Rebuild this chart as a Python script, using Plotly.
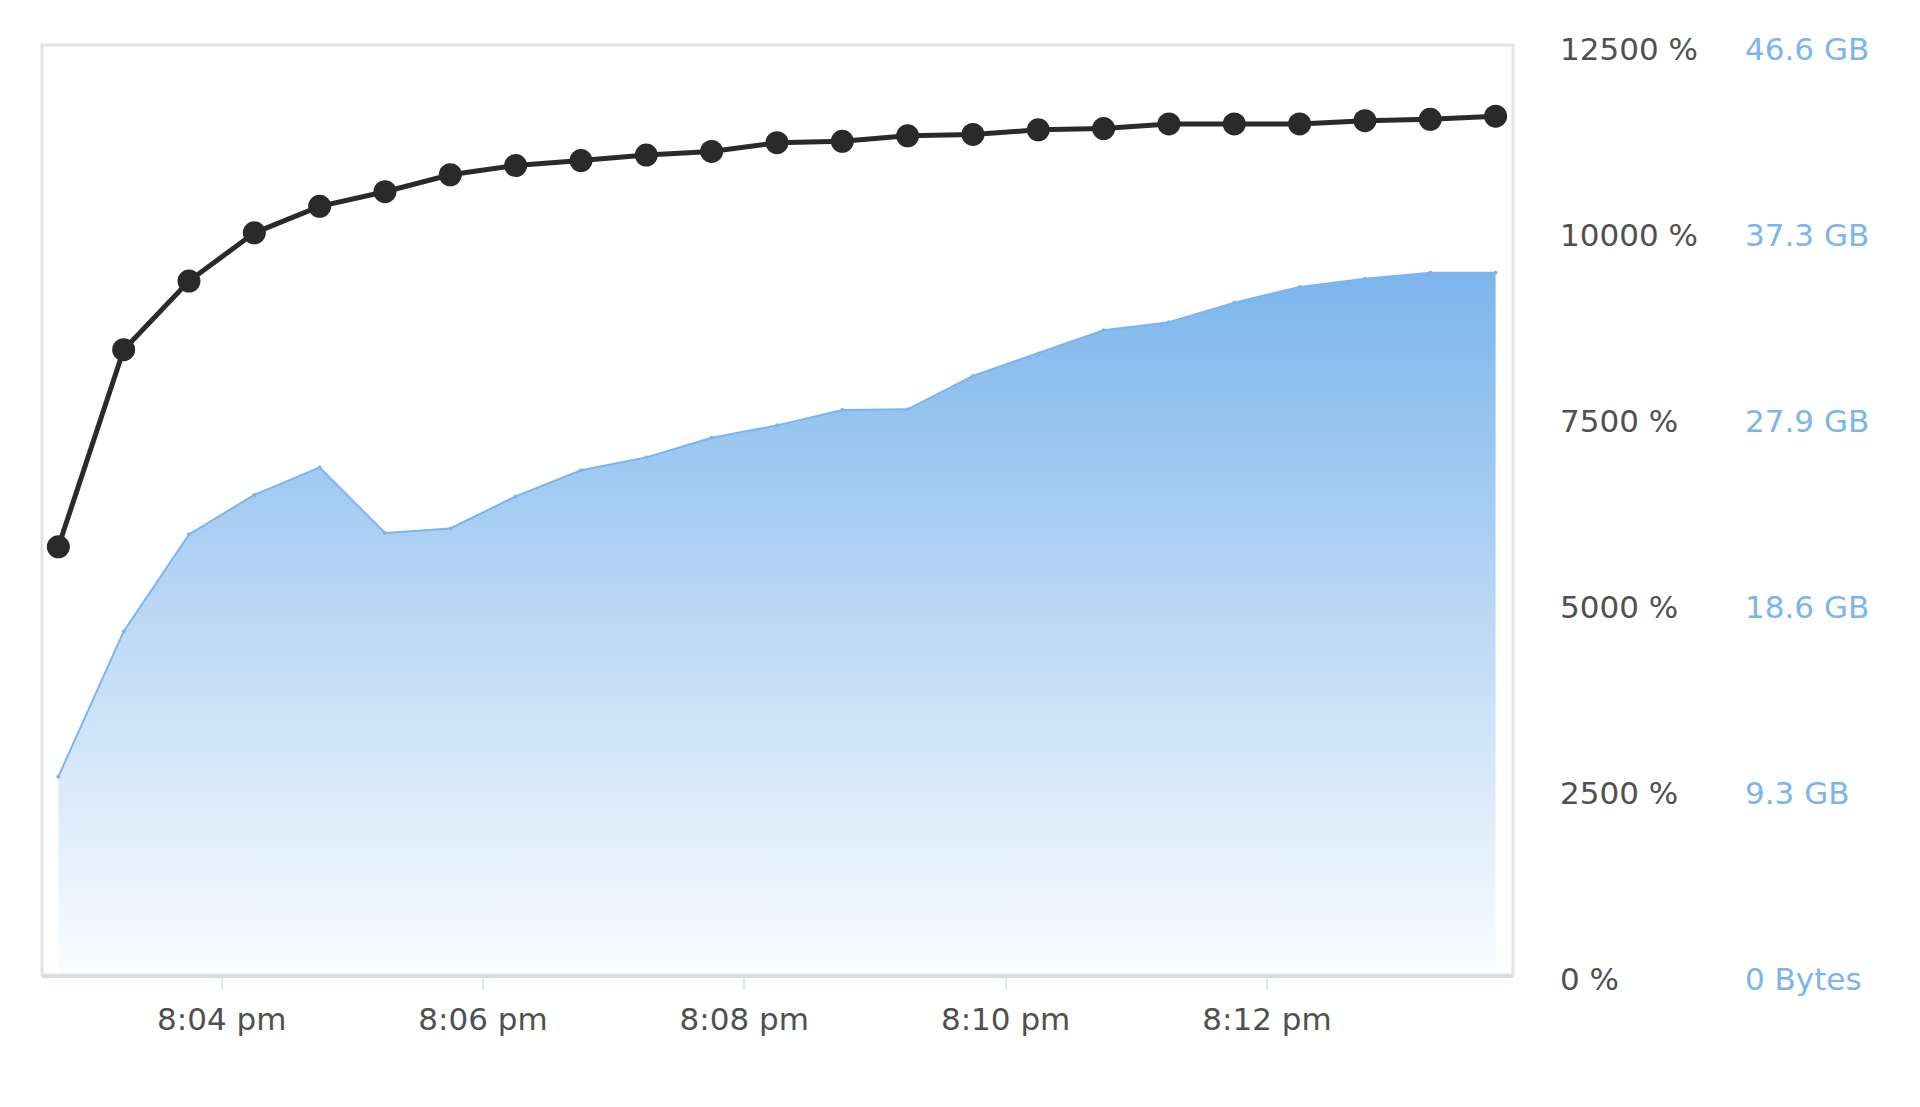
import plotly.graph_objects as go

# ---- data ----
times = [
    "2014-01-01 20:02:45", "2014-01-01 20:03:15", "2014-01-01 20:03:45", "2014-01-01 20:04:15",
    "2014-01-01 20:04:45", "2014-01-01 20:05:15", "2014-01-01 20:05:45", "2014-01-01 20:06:15",
    "2014-01-01 20:06:45", "2014-01-01 20:07:15", "2014-01-01 20:07:45", "2014-01-01 20:08:15",
    "2014-01-01 20:08:45", "2014-01-01 20:09:15", "2014-01-01 20:09:45", "2014-01-01 20:10:15",
    "2014-01-01 20:10:45", "2014-01-01 20:11:15", "2014-01-01 20:11:45", "2014-01-01 20:12:15",
    "2014-01-01 20:12:45", "2014-01-01 20:13:15", "2014-01-01 20:13:45",
]
cpu_percent = [5755, 8404, 9327, 9975, 10331, 10528, 10756, 10880, 10947, 11021, 11070, 11187,
               11206, 11280, 11298, 11360, 11377, 11439, 11439, 11439, 11483, 11501, 11544]
memory_bytes = [10.66e9, 18.47e9, 23.69e9, 25.81e9, 27.29e9, 23.76e9, 24.01e9, 25.73e9,
                27.14e9, 27.83e9, 28.88e9, 29.55e9, 30.37e9, 30.41e9, 32.21e9, 33.42e9,
                34.67e9, 35.09e9, 36.15e9, 36.99e9, 37.43e9, 37.75e9, 37.75e9]

x_tick_vals = ["2014-01-01 20:04", "2014-01-01 20:06", "2014-01-01 20:08",
               "2014-01-01 20:10", "2014-01-01 20:12"]
x_tick_text = ["8:04 pm", "8:06 pm", "8:08 pm", "8:10 pm", "8:12 pm"]
pct_tick_vals = [0, 2500, 5000, 7500, 10000, 12500]
pct_tick_text = ["0 %", "2500 %", "5000 %", "7500 %", "10000 %", "12500 %"]
mem_tick_vals = [0, 1e10, 2e10, 3e10, 4e10, 5e10]
mem_tick_text = ["0 Bytes", "9.3 GB", "18.6 GB", "27.9 GB", "37.3 GB", "46.6 GB"]

BLUE = "#7cb5ec"
FONT = "DejaVu Sans"
TEXT = "#505050"

fig = go.Figure()

fig.add_trace(go.Scatter(
    x=times, y=memory_bytes, mode="lines+markers", yaxis="y",
    line=dict(color=BLUE, width=2),
    marker=dict(size=4, color=BLUE),
    fill="tozeroy",
    fillgradient=dict(
        type="vertical", start=0, stop=max(memory_bytes),
        colorscale=[[0, "rgba(124,181,236,0.03)"], [1, "rgba(124,181,236,1)"]],
    ),
    showlegend=False,
))

fig.add_trace(go.Scatter(
    x=times, y=cpu_percent, mode="lines+markers", yaxis="y2",
    line=dict(color="#2a2a2a", width=5),
    marker=dict(size=23, color="#2a2a2a"),
    showlegend=False,
))

fig.update_layout(
    width=1920, height=1107,
    margin=dict(l=34, r=415, t=37, b=140, autoexpand=False),
    paper_bgcolor="white", plot_bgcolor="white",
    font=dict(family=FONT, size=31, color=TEXT),
    xaxis=dict(
        type="date",
        range=["2014-01-01 20:02:37.5", "2014-01-01 20:13:53"],
        tickvals=x_tick_vals, ticktext=x_tick_text,
        showgrid=False, zeroline=False,
        showline=True, linecolor="#d3dde8", linewidth=3,
        ticks="outside", ticklen=12, tickwidth=2, tickcolor="#dfe7f0",
        ticklabelstandoff=3,
        tickfont=dict(family=FONT, size=31, color=TEXT),
    ),
    yaxis=dict(
        range=[0, 5e10], side="right", anchor="x",
        tickvals=mem_tick_vals, ticktext=mem_tick_text,
        showgrid=False, zeroline=False, showline=False, ticks="",
        ticklabelstandoff=231, ticklabelshift=4,
        tickfont=dict(family=FONT, size=31, color=BLUE),
    ),
    yaxis2=dict(
        range=[0, 12500], side="right", anchor="x", overlaying="y",
        tickvals=pct_tick_vals, ticktext=pct_tick_text,
        showgrid=False, zeroline=False, showline=False, ticks="",
        ticklabelstandoff=46, ticklabelshift=4,
        tickfont=dict(family=FONT, size=31, color=TEXT),
    ),
    shapes=[dict(
        type="rect", xref="x domain", yref="y domain", x0=0, x1=1, y0=0, y1=1,
        line=dict(color="#e4e4e4", width=3), layer="below",
    )],
)

fig.write_html("out.html")
